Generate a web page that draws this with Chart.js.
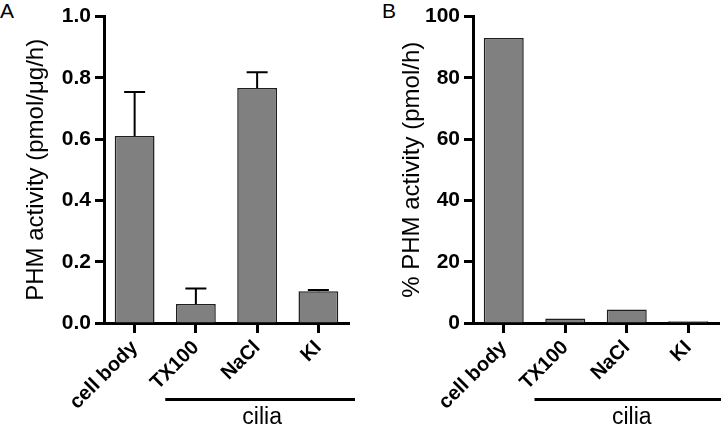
<!DOCTYPE html>
<html>
<head>
<meta charset="utf-8">
<script src="https://cdn.jsdelivr.net/npm/chart.js@4.4.0/dist/chart.umd.min.js"></script>
<style>
  body { margin: 0; background: #fff; width: 721px; height: 424px; position: relative; overflow: hidden;
         font-family: "Liberation Sans", Arial, sans-serif; }
  canvas { position: absolute; top: 0; }
  #chartA { left: 0; }
  #chartB { left: 360px; }
  .panel { position: absolute; font-size: 21px; line-height: 21px; color: #000; }
</style>
</head>
<body>
<div class="panel" style="left:0; top:0;">A</div>
<div class="panel" style="left:382px; top:0;">B</div>
<canvas id="chartA" width="360" height="424"></canvas>
<canvas id="chartB" width="361" height="424"></canvas>
<script>
// data
const categories = ['cell body', 'TX100', 'NaCl', 'KI'];
const activityA = [0.610, 0.062, 0.767, 0.104];   // pmol/ug/h
const errorTopA = [0.754, 0.113, 0.818, 0.108];   // mean + SD
const percentB = [93.0, 1.5, 4.4, 0.6];           // % pmol/h
const ticksA = [0, 0.2, 0.4, 0.6, 0.8, 1.0];
const ticksB = [0, 20, 40, 60, 80, 100];
const groupLabel = 'cilia';

Chart.defaults.font.family = '"Liberation Sans", Arial, sans-serif';
Chart.defaults.color = '#000';

// upper-only error bars, Prism style
const errorBars = {
    id: 'errorBars',
    afterDatasetsDraw(chart, args, opts) {
        if (!opts.tops) return;
        const ctx = chart.ctx, y = chart.scales.y;
        ctx.save();
        ctx.strokeStyle = '#000';
        ctx.lineWidth = 2;
        chart.getDatasetMeta(0).data.forEach((bar, i) => {
            const top = y.getPixelForValue(opts.tops[i]);
            ctx.beginPath();
            ctx.moveTo(bar.x, bar.y);
            ctx.lineTo(bar.x, top);
            ctx.moveTo(bar.x - 10.5, top);
            ctx.lineTo(bar.x + 10.5, top);
            ctx.stroke();
        });
        ctx.restore();
    }
};

// bracket under the three cilia fractions
const ciliaBracket = {
    id: 'ciliaBracket',
    afterDraw(chart) {
        const ctx = chart.ctx, x = chart.scales.x;
        const half = (x.getPixelForValue(1) - x.getPixelForValue(0)) / 2;
        const start = x.getPixelForValue(1) - half;
        const end = chart.chartArea.right + 6;
        const lineY = chart.chartArea.bottom + 76.5;
        ctx.save();
        ctx.strokeStyle = '#000';
        ctx.lineWidth = 3;
        ctx.beginPath();
        ctx.moveTo(start, lineY);
        ctx.lineTo(end, lineY);
        ctx.stroke();
        ctx.fillStyle = '#000';
        ctx.font = '23px "Liberation Sans", Arial, sans-serif';
        ctx.textAlign = 'center';
        ctx.textBaseline = 'alphabetic';
        ctx.fillText(groupLabel, (start + end) / 2 + 2, lineY + 24);
        ctx.restore();
    }
};

function makeChart(id, values, ticks, fmt, title, yWidth, padRight, titlePad, tops) {
    return new Chart(document.getElementById(id), {
        type: 'bar',
        data: {
            labels: categories,
            datasets: [{
                data: values,
                backgroundColor: '#808080',
                borderColor: '#1e1e1e',
                borderWidth: 1.5,
                barPercentage: 0.65,
                categoryPercentage: 1
            }]
        },
        options: {
            responsive: false,
            maintainAspectRatio: false,
            animation: false,
            layout: { padding: { left: 0, right: padRight, top: 15, bottom: 0 } },
            plugins: { legend: { display: false }, tooltip: { enabled: false }, errorBars: { tops: tops } },
            scales: {
                x: {
                    grid: { drawOnChartArea: false, drawTicks: true, tickLength: 10, tickWidth: 3, tickColor: '#000', offset: false },
                    border: { display: true, color: '#000', width: 3 },
                    ticks: { color: '#000', font: { size: 20, weight: 'bold' }, minRotation: 45, maxRotation: 45, autoSkip: false, padding: 3 },
                    afterFit: s => { s.height = 101; }
                },
                y: {
                    min: 0,
                    max: ticks[ticks.length - 1],
                    grid: { drawOnChartArea: false, drawTicks: true, tickLength: 9, tickWidth: 3, tickColor: '#000' },
                    border: { display: true, color: '#000', width: 3 },
                    ticks: { color: '#000', font: { size: 21, weight: 'bold' }, padding: 4, callback: v => fmt(v) },
                    afterBuildTicks: s => { s.ticks = ticks.map(v => ({ value: v })); },
                    title: { display: true, text: title, color: '#000', font: { size: 24 }, padding: { top: titlePad, bottom: 0 } },
                    afterFit: s => { s.width = yWidth; }
                }
            }
        },
        plugins: [errorBars, ciliaBracket]
    });
}

makeChart('chartA', activityA, ticksA, v => v.toFixed(1), 'PHM activity (pmol/\u03bcg/h)', 104, 11, 22, errorTopA);
makeChart('chartB', percentB, ticksB, v => String(v), '% PHM activity (pmol/h)', 113, 2, 38, null);
</script>
</body>
</html>
